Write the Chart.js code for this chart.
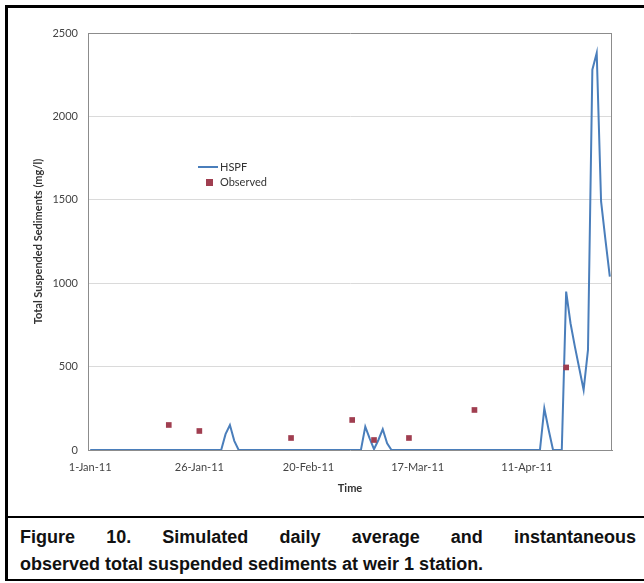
<!DOCTYPE html>
<html>
<head>
<meta charset="utf-8">
<script src="https://cdn.jsdelivr.net/npm/chart.js@4"></script>
<style>
  html, body { margin: 0; padding: 0; background: #fff; }
  body { width: 644px; height: 583px; position: relative; overflow: hidden; }
  #frame {
    position: absolute; left: 5px; top: 5px; width: 650px; height: 571px;
    border-left: 3px solid #000; border-top: 3px solid #000; border-bottom: 2px solid #000;
  }
  #sep { position: absolute; left: 5px; top: 516px; width: 644px; height: 2px; background: #000; }
  #chart { position: absolute; left: 8px; top: 8px; }
  .cap {
    position: absolute; left: 20px; width: 616px;
    font-family: "Liberation Sans", Arial, sans-serif; font-weight: bold; font-size: 18px;
    line-height: 27px; color: #111; white-space: nowrap;
  }
  #cap1 { top: 524px; text-align: justify; text-align-last: justify; white-space: normal; }
  #cap2 { top: 551px; }
</style>
</head>
<body>
<div id="frame"></div>
<canvas id="chart" width="632" height="502"></canvas>
<div id="sep"></div>
<div class="cap" id="cap1">Figure 10. Simulated daily average and instantaneous</div>
<div class="cap" id="cap2">observed total suspended sediments at weir 1 station.</div>
<script>
// simulated (HSPF) daily series, only the turning points; flat zero between them
const hspfDates = [
    '2011-01-01', '2011-01-31', '2011-02-01', '2011-02-02', '2011-02-03', '2011-02-04',
    '2011-03-04', '2011-03-05', '2011-03-06', '2011-03-07', '2011-03-08', '2011-03-09', '2011-03-10', '2011-03-11',
    '2011-04-14', '2011-04-15', '2011-04-16', '2011-04-17',
    '2011-04-19', '2011-04-20', '2011-04-21', '2011-04-22', '2011-04-23', '2011-04-24',
    '2011-04-25', '2011-04-26', '2011-04-27', '2011-04-28', '2011-04-29', '2011-04-30'
]
const hspfValues = [
    0, 0, 95, 150, 55, 0,
    0, 140, 70, 5, 60, 125, 40, 0,
    0, 250, 120, 0,
    0, 950, 760, 620, 490, 360,
    600, 2280, 2380, 1490, 1260, 1040
]

// observed (instantaneous) samples
const obsDates = ['2011-01-19', '2011-01-26', '2011-02-16', '2011-03-02', '2011-03-07', '2011-03-15', '2011-03-30', '2011-04-20']
const obsValues = [150, 114, 72, 180, 60, 72, 240, 495]

const xTickDates = ['2011-01-01', '2011-01-26', '2011-02-20', '2011-03-17', '2011-04-11']
const xTickLabels = ['1-Jan-11', '26-Jan-11', '20-Feb-11', '17-Mar-11', '11-Apr-11']
const yTicks = [0, 500, 1000, 1500, 2000, 2500]

const start = Date.UTC(2011, 0, 1)
function dayOf(s) {
    const p = s.split('-')
    return (Date.UTC(+p[0], +p[1] - 1, +p[2]) - start) / 86400000
}

const lineColor = '#4a7ebb'
const obsColor = '#a03e50'
const frameColor = '#8c8c8c'

// legend drawn inside the plot, as in the original
const innerLegend = {
    id: 'innerLegend',
    afterDraw(chart) {
        const ctx = chart.ctx
        const a = chart.chartArea
        const x = a.left + 110
        const y = a.top + 134
        ctx.save()
        ctx.strokeStyle = lineColor
        ctx.lineWidth = 2
        ctx.beginPath()
        ctx.moveTo(x, y)
        ctx.lineTo(x + 20, y)
        ctx.stroke()
        ctx.fillStyle = obsColor
        ctx.fillRect(x + 8, y + 12, 7, 7)
        ctx.fillStyle = '#333'
        ctx.font = '11px Lato, "Open Sans", sans-serif'
        ctx.textBaseline = 'middle'
        ctx.fillText('HSPF', x + 22, y)
        ctx.fillText('Observed', x + 22, y + 15)
        // right edge of the plot frame
        ctx.strokeStyle = frameColor
        ctx.lineWidth = 1
        ctx.beginPath()
        ctx.moveTo(a.right - 0.5, a.top)
        ctx.lineTo(a.right - 0.5, a.bottom)
        ctx.stroke()
        ctx.restore()
    }
}

new Chart(document.getElementById('chart'), {
    type: 'line',
    data: {
        datasets: [{
            label: 'Observed',
            data: obsDates.map((d, i) => ({x: dayOf(d), y: obsValues[i]})),
            showLine: false,
            pointStyle: 'rect',
            pointRadius: 4,
            pointBackgroundColor: obsColor,
            pointBorderColor: obsColor,
            pointBorderWidth: 0,
            order: 0
        }, {
            label: 'HSPF',
            data: hspfDates.map((d, i) => ({x: dayOf(d), y: hspfValues[i]})),
            borderColor: lineColor,
            borderWidth: 2,
            pointRadius: 0,
            tension: 0,
            fill: false,
            order: 1
        }]
    },
    options: {
        responsive: false,
        animation: false,
        devicePixelRatio: 1,
        layout: {padding: {top: 25, right: 28, left: 0, bottom: 0}},
        plugins: {legend: {display: false}, tooltip: {enabled: false}},
        scales: {
            x: {
                type: 'linear',
                min: -0.5,
                max: 119.5,
                afterBuildTicks: s => { s.ticks = xTickDates.map(d => ({value: dayOf(d)})) },
                afterFit: s => { s.height = 60 },
                ticks: {
                    callback: (v, i) => xTickLabels[i],
                    autoSkip: false,
                    maxRotation: 0,
                    padding: 11,
                    color: '#444',
                    font: {family: 'Lato, "Open Sans", sans-serif', size: 11}
                },
                grid: {display: false, drawTicks: false},
                border: {color: frameColor},
                title: {
                    display: true,
                    text: 'Time',
                    color: '#333',
                    font: {family: 'Lato, "Open Sans", sans-serif', size: 11, weight: 'bold'},
                    padding: {top: 0, bottom: 15}
                }
            },
            y: {
                min: 0,
                max: 2500,
                afterBuildTicks: s => { s.ticks = yTicks.map(v => ({value: v})) },
                afterFit: s => { s.width = 80 },
                ticks: {
                    callback: v => String(v),
                    padding: 10,
                    color: '#444',
                    font: {family: 'Lato, "Open Sans", sans-serif', size: 11}
                },
                grid: {
                    drawTicks: false,
                    color: c => c.tick.value === 2500 ? frameColor : (c.tick.value === 0 ? 'rgba(0,0,0,0)' : '#dadada'),
                    lineWidth: 1
                },
                border: {color: frameColor},
                title: {
                    display: true,
                    text: 'Total Suspended Sediments (mg/l)',
                    color: '#333',
                    font: {family: 'Lato, "Open Sans", sans-serif', size: 11, weight: 'bold'},
                    padding: {top: 24, bottom: 0}
                }
            }
        }
    },
    plugins: [innerLegend]
})
</script>
</body>
</html>
